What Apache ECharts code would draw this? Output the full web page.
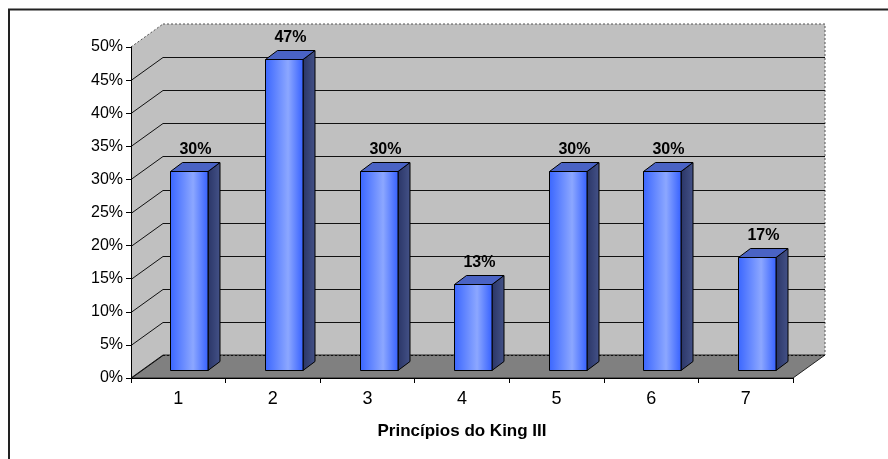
<!DOCTYPE html>
<html>
<head>
<meta charset="utf-8">
<script src="https://cdn.jsdelivr.net/npm/echarts@6/dist/echarts.min.js"></script>
<style>
  html, body { margin: 0; padding: 0; background: #fff; }
  #chart { width: 888px; height: 459px; }
</style>
</head>
<body>
<div id="chart"></div>
<script>
const categories = ["1", "2", "3", "4", "5", "6", "7"]
const values = [0.30, 0.47, 0.30, 0.13, 0.30, 0.30, 0.17]
const yTicks = [0, 0.05, 0.1, 0.15, 0.2, 0.25, 0.3, 0.35, 0.4, 0.45, 0.5]
const axisTitle = "Princípios do King III"

// pseudo-3d offsets (pixels)
const WALL_DX = 32, WALL_DY = -23
const BAR_FX = 11, BAR_FY = -8
const BAR_DX = 12, BAR_DY = -9

const font = "'Liberation Sans', Arial, sans-serif"
const chart = echarts.init(document.getElementById("chart"))

function renderWalls(params, api) {
  const r = params.coordSys
  const l = r.x, t = r.y, rt = r.x + r.width, b = r.y + r.height
  return {
    type: "group",
    children: [
      {
        type: "polygon",
        shape: { points: [[l + WALL_DX, t + WALL_DY], [rt + WALL_DX, t + WALL_DY], [rt + WALL_DX, b + WALL_DY], [l + WALL_DX, b + WALL_DY]] },
        style: { fill: "#c0c0c0" },
      },
      {
        type: "polygon",
        shape: { points: [[l, b], [l, t], [l + WALL_DX, t + WALL_DY], [l + WALL_DX, b + WALL_DY]] },
        style: { fill: "#c0c0c0" },
      },
      {
        type: "polygon",
        shape: { points: [[l, b], [rt, b], [rt + WALL_DX, b + WALL_DY], [l + WALL_DX, b + WALL_DY]] },
        style: { fill: "#808080", stroke: "#222", lineWidth: 1 },
      },
      {
        type: "polyline",
        shape: { points: [[l + WALL_DX, t + WALL_DY], [rt + WALL_DX, t + WALL_DY], [rt + WALL_DX, b + WALL_DY]] },
        style: { stroke: "#555", lineWidth: 1, lineDash: [2, 2], fill: null },
      },
      {
        type: "line",
        shape: { x1: l, y1: t, x2: l + WALL_DX, y2: t + WALL_DY },
        style: { stroke: "#555", lineWidth: 1, lineDash: [2, 2] },
      },
    ],
  }
}

function renderGrid(params, api) {
  const r = params.coordSys
  const y = Math.round(api.coord([0, api.value(0)])[1]) + 0.5
  const v = api.value(0)
  if (v >= 0.5) return null
  const isFloor = v === 0
  return {
    type: "group",
    children: [
      {
        type: "line",
        shape: { x1: r.x, y1: y, x2: r.x + WALL_DX, y2: y + WALL_DY },
        style: { stroke: "#111", lineWidth: 1 },
      },
      {
        type: "line",
        shape: { x1: r.x + WALL_DX, y1: y + WALL_DY, x2: r.x + r.width + WALL_DX, y2: y + WALL_DY },
        style: { stroke: "#111", lineWidth: 1, lineDash: isFloor ? [2, 2] : null },
      },
    ],
  }
}

function renderBar(params, api) {
  const idx = api.value(0)
  const v = api.value(1)
  const top = api.coord([idx, v])
  const base = api.coord([idx, 0])
  const band = api.size([1, 0])[0]
  const w = band * 0.4
  const x0 = Math.round(top[0] - w / 2 + BAR_FX) + 0.5
  const x1 = Math.round(x0 + w)
  const yT = Math.round(top[1] + BAR_FY) + 0.5
  const yB = Math.round(base[1] + BAR_FY) + 0.5
  return {
    type: "group",
    children: [
      {
        type: "polygon",
        shape: { points: [[x1, yB], [x1, yT], [x1 + BAR_DX, yT + BAR_DY], [x1 + BAR_DX, yB + BAR_DY]] },
        style: {
          fill: new echarts.graphic.LinearGradient(0, 0, 1, 0, [
            { offset: 0, color: "#2a3566" },
            { offset: 1, color: "#445288" },
          ]),
          stroke: "#000", lineWidth: 1,
        },
      },
      {
        type: "polygon",
        shape: { points: [[x0, yT], [x1, yT], [x1 + BAR_DX, yT + BAR_DY], [x0 + BAR_DX, yT + BAR_DY]] },
        style: { fill: "#4a63c4", stroke: "#000", lineWidth: 1 },
      },
      {
        type: "rect",
        shape: { x: x0, y: yT, width: x1 - x0, height: yB - yT },
        style: {
          fill: new echarts.graphic.LinearGradient(0, 0, 1, 0, [
            { offset: 0, color: "#3a66ff" },
            { offset: 0.6, color: "#8ca7ff" },
            { offset: 1, color: "#3560ff" },
          ]),
          stroke: "#000", lineWidth: 1,
        },
      },
      {
        type: "text",
        style: {
          text: Math.round(v * 100) + "%",
          x: x0 + w / 2 + BAR_DX / 2,
          y: yT + BAR_DY - 5,
          align: "center",
          verticalAlign: "bottom",
          font: "bold 16px " + font,
          fill: "#000",
        },
      },
    ],
  }
}

const option = {
  animation: false,
  backgroundColor: "#fff",
  grid: {
    left: 131,
    right: 95,
    top: 47,
    bottom: 81,
  },
  xAxis: {
    type: "category",
    data: categories,
    z: 5,
    axisLine: { lineStyle: { color: "#000", width: 1 } },
    axisTick: { show: true, length: 5, lineStyle: { color: "#000" } },
    axisLabel: { color: "#000", fontSize: 18, fontFamily: font, margin: 12 },
    name: axisTitle,
    nameLocation: "middle",
    nameGap: 45,
    nameTextStyle: { color: "#000", fontSize: 17, fontWeight: "bold", fontFamily: font },
  },
  yAxis: {
    type: "value",
    min: 0,
    max: 0.5,
    interval: 0.05,
    z: 5,
    axisLine: { show: true, lineStyle: { color: "#000", width: 1 } },
    axisTick: { show: true, length: 5, lineStyle: { color: "#000" } },
    axisLabel: {
      color: "#000",
      fontSize: 16,
      fontFamily: font,
      margin: 8,
      formatter: (val) => Math.round(val * 100) + "%",
    },
    splitLine: { show: false },
  },
  series: [
    {
      type: "custom",
      z: 1,
      silent: true,
      renderItem: renderWalls,
      data: [[0]],
    },
    {
      type: "custom",
      z: 2,
      silent: true,
      renderItem: renderGrid,
      encode: { y: 0 },
      data: yTicks.map((t) => [t]),
    },
    {
      type: "custom",
      z: 3,
      renderItem: renderBar,
      encode: { x: 0, y: 1 },
      data: values.map((v, i) => [i, v]),
    },
  ],
  graphic: [
    {
      type: "polyline",
      shape: { points: [[9, 459], [9, 9.5], [888, 9.5]] },
      style: { stroke: "#222", lineWidth: 2, fill: null },
      z: 10,
    },
  ],
}

chart.setOption(option)

window.addEventListener("resize", () => chart.resize())
</script>
</body>
</html>
